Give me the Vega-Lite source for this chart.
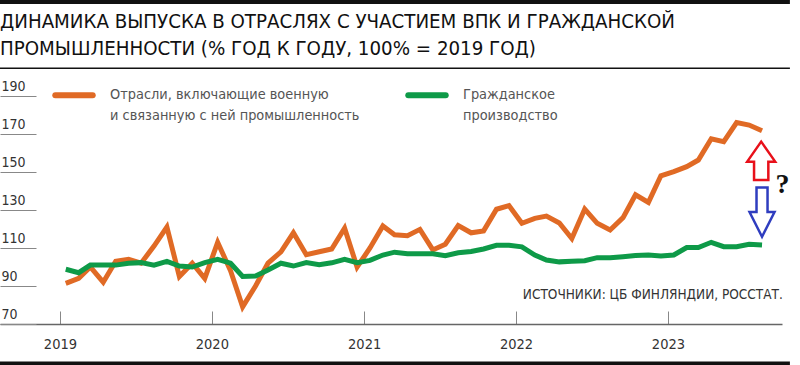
{
  "$schema": "https://vega.github.io/schema/vega-lite/v6.json",
  "width": 782,
  "height": 247,
  "autosize": {"type": "none"},
  "padding": {"left": 0, "top": 77, "right": 18, "bottom": 41},
  "background": "white",
  "title": {
    "text": ["ДИНАМИКА ВЫПУСКА В ОТРАСЛЯХ С УЧАСТИЕМ ВПК И ГРАЖДАНСКОЙ", "ПРОМЫШЛЕННОСТИ (% ГОД К ГОДУ, 100% = 2019 ГОД)"],
    "anchor": "start",
    "frame": "group",
    "font": "DejaVu Sans Condensed, sans-serif",
    "fontSize": 20.3,
    "fontWeight": "normal",
    "color": "#111111",
    "lineHeight": 27,
    "baseline": "bottom",
    "offset": -79
  },
  "config": {"view": {"stroke": null}},
  "datasets": {
    "series": [
      {"date": "2019-01-15", "series": "Отрасли, включающие военную и связанную с ней промышленность", "value": 91.4},
      {"date": "2019-02-15", "series": "Отрасли, включающие военную и связанную с ней промышленность", "value": 94},
      {"date": "2019-03-15", "series": "Отрасли, включающие военную и связанную с ней промышленность", "value": 100},
      {"date": "2019-04-15", "series": "Отрасли, включающие военную и связанную с ней промышленность", "value": 92},
      {"date": "2019-05-15", "series": "Отрасли, включающие военную и связанную с ней промышленность", "value": 103},
      {"date": "2019-06-15", "series": "Отрасли, включающие военную и связанную с ней промышленность", "value": 104},
      {"date": "2019-07-15", "series": "Отрасли, включающие военную и связанную с ней промышленность", "value": 102},
      {"date": "2019-08-15", "series": "Отрасли, включающие военную и связанную с ней промышленность", "value": 111},
      {"date": "2019-09-15", "series": "Отрасли, включающие военную и связанную с ней промышленность", "value": 121},
      {"date": "2019-10-15", "series": "Отрасли, включающие военную и связанную с ней промышленность", "value": 95},
      {"date": "2019-11-15", "series": "Отрасли, включающие военную и связанную с ней промышленность", "value": 102},
      {"date": "2019-12-15", "series": "Отрасли, включающие военную и связанную с ней промышленность", "value": 94},
      {"date": "2020-01-15", "series": "Отрасли, включающие военную и связанную с ней промышленность", "value": 113},
      {"date": "2020-02-15", "series": "Отрасли, включающие военную и связанную с ней промышленность", "value": 98},
      {"date": "2020-03-15", "series": "Отрасли, включающие военную и связанную с ней промышленность", "value": 79},
      {"date": "2020-04-15", "series": "Отрасли, включающие военную и связанную с ней промышленность", "value": 90},
      {"date": "2020-05-15", "series": "Отрасли, включающие военную и связанную с ней промышленность", "value": 102},
      {"date": "2020-06-15", "series": "Отрасли, включающие военную и связанную с ней промышленность", "value": 108},
      {"date": "2020-07-15", "series": "Отрасли, включающие военную и связанную с ней промышленность", "value": 118},
      {"date": "2020-08-15", "series": "Отрасли, включающие военную и связанную с ней промышленность", "value": 106.5},
      {"date": "2020-09-15", "series": "Отрасли, включающие военную и связанную с ней промышленность", "value": 108},
      {"date": "2020-10-15", "series": "Отрасли, включающие военную и связанную с ней промышленность", "value": 109.5},
      {"date": "2020-11-15", "series": "Отрасли, включающие военную и связанную с ней промышленность", "value": 120.4},
      {"date": "2020-12-15", "series": "Отрасли, включающие военную и связанную с ней промышленность", "value": 100},
      {"date": "2021-01-15", "series": "Отрасли, включающие военную и связанную с ней промышленность", "value": 110},
      {"date": "2021-02-15", "series": "Отрасли, включающие военную и связанную с ней промышленность", "value": 121.6},
      {"date": "2021-03-15", "series": "Отрасли, включающие военную и связанную с ней промышленность", "value": 117},
      {"date": "2021-04-15", "series": "Отрасли, включающие военную и связанную с ней промышленность", "value": 116.5},
      {"date": "2021-05-15", "series": "Отрасли, включающие военную и связанную с ней промышленность", "value": 119.8},
      {"date": "2021-06-15", "series": "Отрасли, включающие военную и связанную с ней промышленность", "value": 109},
      {"date": "2021-07-15", "series": "Отрасли, включающие военную и связанную с ней промышленность", "value": 112},
      {"date": "2021-08-15", "series": "Отрасли, включающие военную и связанную с ней промышленность", "value": 121.8},
      {"date": "2021-09-15", "series": "Отрасли, включающие военную и связанную с ней промышленность", "value": 118},
      {"date": "2021-10-15", "series": "Отрасли, включающие военную и связанную с ней промышленность", "value": 119},
      {"date": "2021-11-15", "series": "Отрасли, включающие военную и связанную с ней промышленность", "value": 130.4},
      {"date": "2021-12-15", "series": "Отрасли, включающие военную и связанную с ней промышленность", "value": 132.3},
      {"date": "2022-01-15", "series": "Отрасли, включающие военную и связанную с ней промышленность", "value": 123},
      {"date": "2022-02-15", "series": "Отрасли, включающие военную и связанную с ней промышленность", "value": 125.6},
      {"date": "2022-03-15", "series": "Отрасли, включающие военную и связанную с ней промышленность", "value": 126.8},
      {"date": "2022-04-15", "series": "Отрасли, включающие военную и связанную с ней промышленность", "value": 123.2},
      {"date": "2022-05-15", "series": "Отрасли, включающие военную и связанную с ней промышленность", "value": 115},
      {"date": "2022-06-15", "series": "Отрасли, включающие военную и связанную с ней промышленность", "value": 130.5},
      {"date": "2022-07-15", "series": "Отрасли, включающие военную и связанную с ней промышленность", "value": 123},
      {"date": "2022-08-15", "series": "Отрасли, включающие военную и связанную с ней промышленность", "value": 119.5},
      {"date": "2022-09-15", "series": "Отрасли, включающие военную и связанную с ней промышленность", "value": 126},
      {"date": "2022-10-15", "series": "Отрасли, включающие военную и связанную с ней промышленность", "value": 138},
      {"date": "2022-11-15", "series": "Отрасли, включающие военную и связанную с ней промышленность", "value": 134},
      {"date": "2022-12-15", "series": "Отрасли, включающие военную и связанную с ней промышленность", "value": 148},
      {"date": "2023-01-15", "series": "Отрасли, включающие военную и связанную с ней промышленность", "value": 150.2},
      {"date": "2023-02-15", "series": "Отрасли, включающие военную и связанную с ней промышленность", "value": 152.8},
      {"date": "2023-03-15", "series": "Отрасли, включающие военную и связанную с ней промышленность", "value": 156.3},
      {"date": "2023-04-15", "series": "Отрасли, включающие военную и связанную с ней промышленность", "value": 167.5},
      {"date": "2023-05-15", "series": "Отрасли, включающие военную и связанную с ней промышленность", "value": 166},
      {"date": "2023-06-15", "series": "Отрасли, включающие военную и связанную с ней промышленность", "value": 176},
      {"date": "2023-07-15", "series": "Отрасли, включающие военную и связанную с ней промышленность", "value": 174.7},
      {"date": "2023-08-15", "series": "Отрасли, включающие военную и связанную с ней промышленность", "value": 171.7},
      {"date": "2019-01-15", "series": "Гражданское производство", "value": 98.8},
      {"date": "2019-02-15", "series": "Гражданское производство", "value": 97},
      {"date": "2019-03-15", "series": "Гражданское производство", "value": 101},
      {"date": "2019-04-15", "series": "Гражданское производство", "value": 101},
      {"date": "2019-05-15", "series": "Гражданское производство", "value": 101},
      {"date": "2019-06-15", "series": "Гражданское производство", "value": 102},
      {"date": "2019-07-15", "series": "Гражданское производство", "value": 102.3},
      {"date": "2019-08-15", "series": "Гражданское производство", "value": 101},
      {"date": "2019-09-15", "series": "Гражданское производство", "value": 103},
      {"date": "2019-10-15", "series": "Гражданское производство", "value": 100.5},
      {"date": "2019-11-15", "series": "Гражданское производство", "value": 100},
      {"date": "2019-12-15", "series": "Гражданское производство", "value": 102.3},
      {"date": "2020-01-15", "series": "Гражданское производство", "value": 104},
      {"date": "2020-02-15", "series": "Гражданское производство", "value": 102},
      {"date": "2020-03-15", "series": "Гражданское производство", "value": 95},
      {"date": "2020-04-15", "series": "Гражданское производство", "value": 95.3},
      {"date": "2020-05-15", "series": "Гражданское производство", "value": 98.4},
      {"date": "2020-06-15", "series": "Гражданское производство", "value": 102},
      {"date": "2020-07-15", "series": "Гражданское производство", "value": 100.5},
      {"date": "2020-08-15", "series": "Гражданское производство", "value": 102.3},
      {"date": "2020-09-15", "series": "Гражданское производство", "value": 101.2},
      {"date": "2020-10-15", "series": "Гражданское производство", "value": 102.2},
      {"date": "2020-11-15", "series": "Гражданское производство", "value": 104},
      {"date": "2020-12-15", "series": "Гражданское производство", "value": 102.3},
      {"date": "2021-01-15", "series": "Гражданское производство", "value": 103.5},
      {"date": "2021-02-15", "series": "Гражданское производство", "value": 106.3},
      {"date": "2021-03-15", "series": "Гражданское производство", "value": 107.8},
      {"date": "2021-04-15", "series": "Гражданское производство", "value": 107},
      {"date": "2021-05-15", "series": "Гражданское производство", "value": 107},
      {"date": "2021-06-15", "series": "Гражданское производство", "value": 107},
      {"date": "2021-07-15", "series": "Гражданское производство", "value": 106},
      {"date": "2021-08-15", "series": "Гражданское производство", "value": 107.5},
      {"date": "2021-09-15", "series": "Гражданское производство", "value": 108.2},
      {"date": "2021-10-15", "series": "Гражданское производство", "value": 109.5},
      {"date": "2021-11-15", "series": "Гражданское производство", "value": 111.4},
      {"date": "2021-12-15", "series": "Гражданское производство", "value": 111.4},
      {"date": "2022-01-15", "series": "Гражданское производство", "value": 110.6},
      {"date": "2022-02-15", "series": "Гражданское производство", "value": 106.3},
      {"date": "2022-03-15", "series": "Гражданское производство", "value": 103.7},
      {"date": "2022-04-15", "series": "Гражданское производство", "value": 102.7},
      {"date": "2022-05-15", "series": "Гражданское производство", "value": 103},
      {"date": "2022-06-15", "series": "Гражданское производство", "value": 103.3},
      {"date": "2022-07-15", "series": "Гражданское производство", "value": 104.9},
      {"date": "2022-08-15", "series": "Гражданское производство", "value": 104.9},
      {"date": "2022-09-15", "series": "Гражданское производство", "value": 105.4},
      {"date": "2022-10-15", "series": "Гражданское производство", "value": 106},
      {"date": "2022-11-15", "series": "Гражданское производство", "value": 106.3},
      {"date": "2022-12-15", "series": "Гражданское производство", "value": 105.8},
      {"date": "2023-01-15", "series": "Гражданское производство", "value": 106.3},
      {"date": "2023-02-15", "series": "Гражданское производство", "value": 110.2},
      {"date": "2023-03-15", "series": "Гражданское производство", "value": 110.2},
      {"date": "2023-04-15", "series": "Гражданское производство", "value": 113},
      {"date": "2023-05-15", "series": "Гражданское производство", "value": 110.7},
      {"date": "2023-06-15", "series": "Гражданское производство", "value": 110.7},
      {"date": "2023-07-15", "series": "Гражданское производство", "value": 112},
      {"date": "2023-08-15", "series": "Гражданское производство", "value": 111.6}
    ]
  },
  "layer": [
    {
      "data": {"values": [{}]},
      "mark": {"type": "rule", "strokeWidth": 4, "color": "#111111"},
      "encoding": {
        "x": {"datum": {"year": 2018, "month": 8, "date": 10}, "type": "temporal"},
        "x2": {"datum": {"year": 2023, "month": 10, "date": 21}},
        "y": {"datum": 239.5, "type": "quantitative"}
      }
    },
    {
      "data": {"values": [{}]},
      "mark": {"type": "rule", "strokeWidth": 1.5, "color": "#111111"},
      "encoding": {
        "x": {"datum": {"year": 2018, "month": 8, "date": 10}, "type": "temporal"},
        "x2": {"datum": {"year": 2023, "month": 10, "date": 21}},
        "y": {"datum": 204.6, "type": "quantitative"}
      }
    },
    {
      "data": {"values": [{}]},
      "mark": {"type": "rule", "strokeWidth": 4, "color": "#111111"},
      "encoding": {
        "x": {"datum": {"year": 2018, "month": 8, "date": 10}, "type": "temporal"},
        "x2": {"datum": {"year": 2023, "month": 10, "date": 21}},
        "y": {"datum": 49.2, "type": "quantitative"}
      }
    },
    {
      "data": {"name": "series"},
      "mark": {"type": "line", "strokeWidth": 5},
      "encoding": {
        "x": {
          "field": "date",
          "type": "temporal",
          "scale": {"domain": [{"year": 2018, "month": 8, "date": 10}, {"year": 2023, "month": 10, "date": 2}]},
          "axis": {
            "title": null,
            "values": [{"year": 2019, "month": 1, "date": 1}, {"year": 2020, "month": 1, "date": 1}, {"year": 2021, "month": 1, "date": 1}, {"year": 2022, "month": 1, "date": 1}, {"year": 2023, "month": 1, "date": 1}],
            "format": "%Y",
            "grid": false,
            "domainColor": "#666666",
            "domainWidth": 1.5,
            "tickSize": -13,
            "tickColor": "#888888",
            "tickWidth": 1,
            "labelPadding": 26,
            "labelFlush": false,
            "labelFont": "DejaVu Sans Condensed, sans-serif",
            "labelFontSize": 14.5,
            "labelColor": "#333333"
          }
        },
        "y": {
          "field": "value",
          "type": "quantitative",
          "scale": {"domain": [70, 200], "nice": false, "zero": false},
          "axis": {
            "title": null,
            "values": [70, 90, 110, 130, 150, 170, 190],
            "domain": false,
            "grid": false,
            "offset": -36,
            "tickSize": 36,
            "tickColor": "#888888",
            "tickWidth": 1,
            "labelAlign": "left",
            "labelBaseline": "alphabetic",
            "labelPadding": -1,
            "labelOffset": -6,
            "labelFont": "DejaVu Sans Condensed, sans-serif",
            "labelFontSize": 14,
            "labelColor": "#333333"
          }
        },
        "color": {
          "field": "series",
          "type": "nominal",
          "scale": {
            "domain": ["Отрасли, включающие военную и связанную с ней промышленность", "Гражданское производство"],
            "range": ["#E06A25", "#0E9A48"]
          },
          "legend": {
            "orient": "none",
            "legendX": 52,
            "legendY": -4,
            "direction": "horizontal",
            "columns": 2,
            "title": null,
            "padding": 0,
            "symbolType": "stroke",
            "symbolSize": 1400,
            "symbolStrokeWidth": 6,
            "labelFont": "DejaVu Sans Condensed, sans-serif",
            "labelFontSize": 14.4,
            "labelColor": "#555555",
            "labelLimit": 400,
            "labelOffset": 14,
            "labelBaseline": "middle",
            "columnPadding": 36,
            "labelExpr": "datum.label == 'Гражданское производство' ? ['Гражданское', 'производство'] : ['Отрасли, включающие военную', 'и связанную с ней промышленность']",
            "encode": {
              "symbols": {"update": {"strokeCap": {"value": "round"}}},
              "labels": {"update": {"dy": {"value": 0}, "lineHeight": {"value": 21}}}
            }
          }
        }
      }
    },
    {
      "data": {"values": [{}]},
      "mark": {"type": "point", "shape": "M0,-1L0.731,0.044L0.373,0.044L0.373,1L-0.373,1L-0.373,0.044L-0.731,0.044Z", "size": 1467, "filled": true, "fill": "white", "stroke": "#E8101A", "strokeWidth": 2.5, "opacity": 1},
      "encoding": {
        "x": {"datum": {"year": 2023, "month": 8, "date": 13}, "type": "temporal"},
        "y": {"datum": 155.9, "type": "quantitative"}
      }
    },
    {
      "data": {"values": [{}]},
      "mark": {"type": "point", "shape": "M-0.223,-1L0.223,-1L0.223,0L0.506,0L0,1L-0.506,0L-0.223,0Z", "size": 2440, "filled": true, "fill": "white", "stroke": "#2F3DBF", "strokeWidth": 2.5, "opacity": 1},
      "encoding": {
        "x": {"datum": {"year": 2023, "month": 8, "date": 15}, "type": "temporal"},
        "y": {"datum": 128.9, "type": "quantitative"}
      }
    },
    {
      "data": {"values": [{}]},
      "mark": {"type": "text", "text": "?", "font": "Liberation Serif", "fontWeight": "bold", "fontSize": 28, "color": "#111111", "align": "center", "baseline": "middle"},
      "encoding": {
        "x": {"datum": {"year": 2023, "month": 10, "date": 3}, "type": "temporal"},
        "y": {"datum": 143.2, "type": "quantitative"}
      }
    },
    {
      "data": {"values": [{}]},
      "mark": {"type": "text", "text": "ИСТОЧНИКИ: ЦБ ФИНЛЯНДИИ, РОССТАТ.", "font": "DejaVu Sans Condensed, sans-serif", "fontSize": 13.5, "color": "#333333", "align": "right", "baseline": "alphabetic"},
      "encoding": {
        "x": {"datum": {"year": 2023, "month": 10, "date": 4}, "type": "temporal"},
        "y": {"datum": 83, "type": "quantitative"}
      }
    }
  ]
}
